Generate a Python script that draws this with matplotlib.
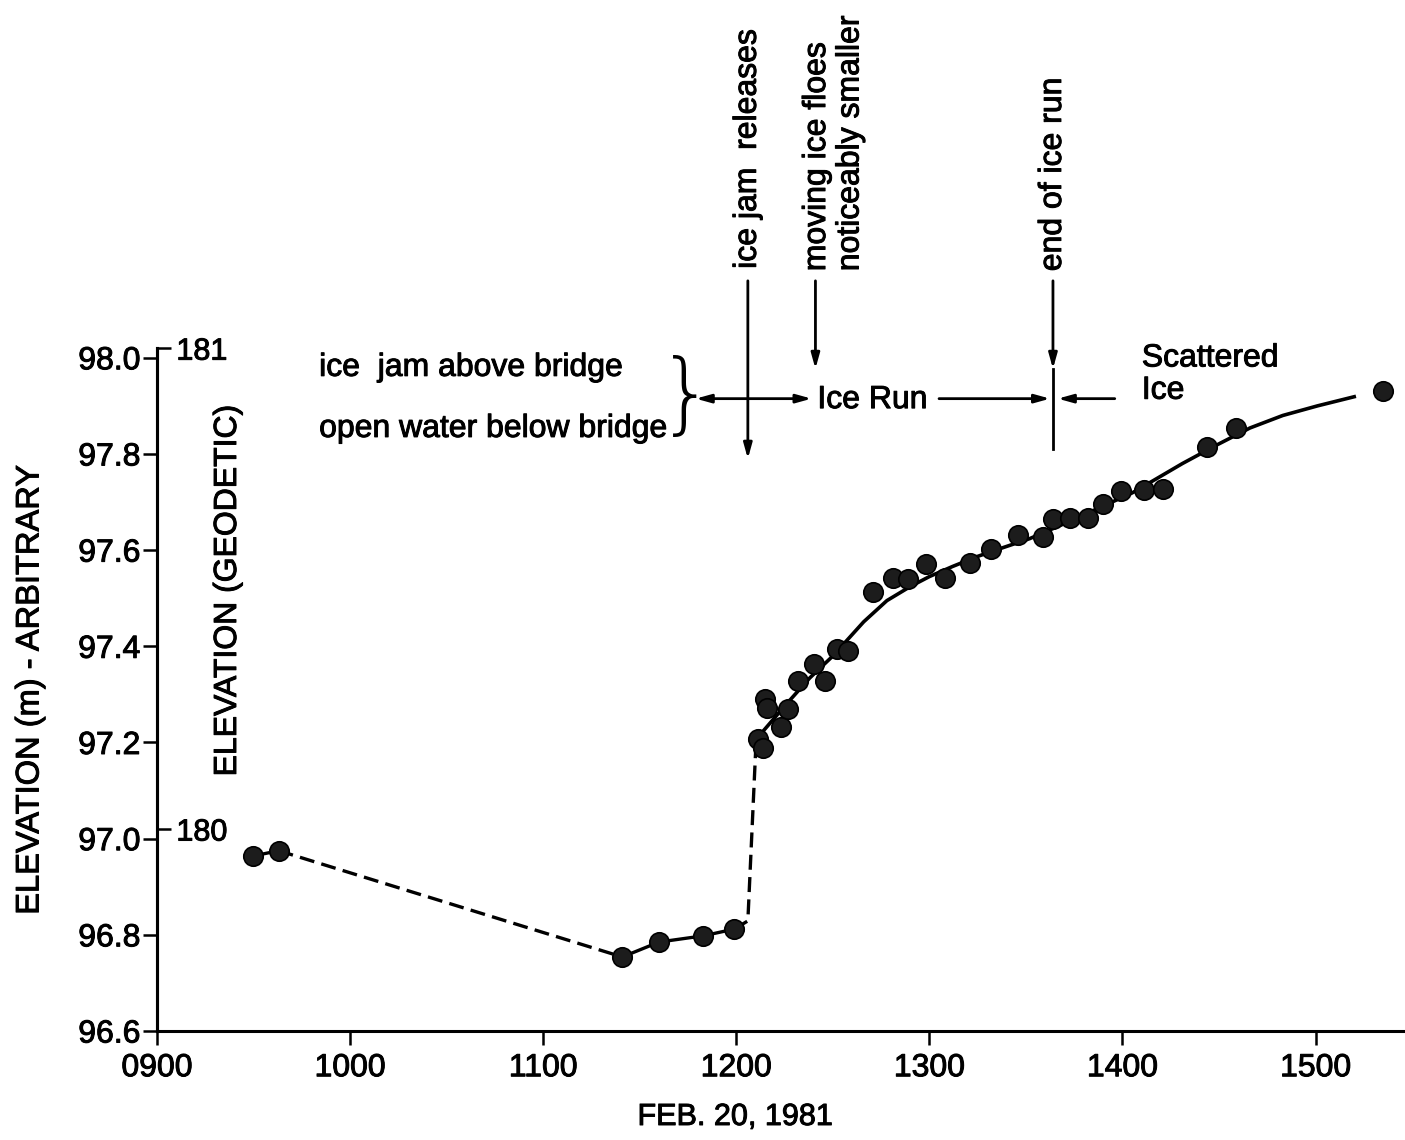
import matplotlib
matplotlib.use("Agg")
import matplotlib.pyplot as plt
import matplotlib.patheffects as pe
from matplotlib.text import Text
from matplotlib.ticker import FixedLocator, FixedFormatter

plt.rcParams['font.family'] = ['Liberation Sans', 'DejaVu Sans']

# observed water levels, time in decimal hours on Feb 20 1981
obs_time = [9.50, 9.63, 11.41, 11.60, 11.83, 11.99, 12.11, 12.14, 12.15, 12.16,
            12.23, 12.27, 12.32, 12.40, 12.46, 12.52, 12.58, 12.71, 12.81, 12.89,
            12.98, 13.08, 13.21, 13.32, 13.46, 13.59, 13.64, 13.73, 13.82, 13.90,
            13.99, 14.11, 14.21, 14.44, 14.59, 15.35]
obs_elev = [96.964, 96.975, 96.754, 96.785, 96.798, 96.812, 97.208, 97.189, 97.291, 97.272,
            97.233, 97.270, 97.328, 97.364, 97.328, 97.395, 97.391, 97.513, 97.542, 97.540,
            97.572, 97.542, 97.574, 97.603, 97.632, 97.628, 97.665, 97.667, 97.667, 97.696,
            97.723, 97.725, 97.728, 97.815, 97.854, 97.931]

# hand-drawn trend through the ice run
fit_time = [12.11, 12.14, 12.26, 12.38, 12.49, 12.57, 12.66, 12.78, 12.90, 13.00,
            13.12, 13.25, 13.38, 13.52, 13.71, 13.88, 14.05, 14.14, 14.31, 14.49,
            14.66, 14.83, 15.01, 15.20]
fit_elev = [97.199, 97.224, 97.280, 97.334, 97.376, 97.411, 97.451, 97.495, 97.524, 97.545,
            97.566, 97.587, 97.605, 97.624, 97.657, 97.688, 97.719, 97.740, 97.780, 97.819,
            97.854, 97.880, 97.900, 97.919]

# dashed jump when the jam releases
jump_time = [11.99, 12.06, 12.10, 12.11]
jump_elev = [96.812, 96.829, 97.180, 97.208]

geodetic_offset = 82.98
hour_ticks = [9, 10, 11, 12, 13, 14, 15]
hour_labels = ['0900', '1000', '1100', '1200', '1300', '1400', '1500']
elev_ticks = [96.6, 96.8, 97.0, 97.2, 97.4, 97.6, 97.8, 98.0]

t_release = 12.06
t_floes = 12.41
t_end = 13.64

fig = plt.figure(figsize=(14.05, 11.4), dpi=100)
ax = fig.add_axes([0.1117, 0.0956, 0.8883, 0.599])

# early segments, dashed gap
ax.plot(obs_time[0:2], obs_elev[0:2], color='black', lw=2.4)
ax.plot(obs_time[1:3], obs_elev[1:3], color='black', lw=2.4, ls=(0, (4.5, 2.2)))
ax.plot(obs_time[2:6], obs_elev[2:6], color='black', lw=2.4)
ax.plot(jump_time, jump_elev, color='black', lw=2.4, ls=(0, (4.5, 2.2)))
ax.plot(fit_time, fit_elev, color='black', lw=2.6)
ax.plot(obs_time, obs_elev, 'o', ms=14, color='#1c1c1c', mec='black', mew=1.2, zorder=3)

ax.set_xlim(9, 15.463)
ax.set_ylim(96.6, 98.02)
ax.spines['top'].set_visible(False)
ax.spines['right'].set_visible(False)
for s in ['left', 'bottom']:
    ax.spines[s].set_linewidth(2.2)

ax.xaxis.set_major_locator(FixedLocator(hour_ticks))
ax.xaxis.set_major_formatter(FixedFormatter(hour_labels))
ax.set_yticks(elev_ticks)
ax.set_yticklabels([f'{v:.1f}' for v in elev_ticks])
ax.tick_params(axis='x', direction='out', length=10, width=1.8, labelsize=23, pad=6)
ax.tick_params(axis='y', direction='out', length=10, width=1.8, labelsize=23, pad=2)

sec = ax.secondary_yaxis(0.0, functions=(lambda y: y + geodetic_offset,
                                         lambda y: y - geodetic_offset))
sec.set_alignment('right')
sec.set_yticks([180, 181])
sec.tick_params(direction='out', length=10, width=1.8, labelsize=22, pad=4)
sec.spines['right'].set_linewidth(2.2)

fig.text(30 / 1405, 1 - 690 / 1140, 'ELEVATION (m) - ARBITRARY', rotation=90,
         ha='center', va='center', fontsize=23.5)
fig.text(228 / 1405, 1 - 590 / 1140, 'ELEVATION (GEODETIC)', rotation=90,
         ha='center', va='center', fontsize=23)
fig.text(735 / 1405, 1 - 1117 / 1140, 'FEB. 20, 1981', ha='center', va='center',
         fontsize=22)

# annotations
txt = dict(fontsize=23, clip_on=False)
ax.text(9.84, 97.979, 'ice  jam above bridge', ha='left', va='center', **txt)
ax.text(9.84, 97.852, 'open water below bridge', ha='left', va='center', **txt)

head = dict(color='black', lw=2, shrinkA=0, shrinkB=0)
ahead = '-|>,head_length=0.9,head_width=0.25'
ax.annotate('', xy=(11.79, 97.915), xytext=(12.39, 97.915),
            arrowprops=dict(arrowstyle='<|-|>,head_length=0.9,head_width=0.25', **head),
            annotation_clip=False)
ax.text(12.42, 97.912, 'Ice Run', ha='left', va='center', **txt)
ax.annotate('', xy=(13.625, 97.915), xytext=(13.05, 97.915),
            arrowprops=dict(arrowstyle=ahead, **head), annotation_clip=False)
ax.annotate('', xy=(13.665, 97.915), xytext=(13.96, 97.915),
            arrowprops=dict(arrowstyle=ahead, **head), annotation_clip=False)

ax.annotate('', xy=(t_release, 97.79), xytext=(t_release, 98.16),
            arrowprops=dict(arrowstyle=ahead, **head), annotation_clip=False)
ax.text(t_release, 98.185, 'ice jam  releases', rotation=90, ha='center', va='bottom', **txt)

ax.annotate('', xy=(t_floes, 97.977), xytext=(t_floes, 98.16),
            arrowprops=dict(arrowstyle=ahead, **head), annotation_clip=False)
ax.text(t_floes + 0.095, 98.18, 'moving ice floes\nnoticeably smaller', rotation=90,
        ha='center', va='bottom', multialignment='left', linespacing=1.15, **txt)

ax.annotate('', xy=(t_end, 97.977), xytext=(t_end, 98.16),
            arrowprops=dict(arrowstyle=ahead, **head), annotation_clip=False)
ax.plot([t_end, t_end], [97.977, 97.811], color='black', lw=2, clip_on=False)
ax.text(t_end, 98.18, 'end of ice run', rotation=90, ha='center', va='bottom', **txt)

ax.text(14.10, 97.965, 'Scattered\nIce', ha='left', va='center', linespacing=1.1, **txt)

# slightly heavier strokes, like the printed original
for t in fig.findobj(Text):
    t.set_path_effects([pe.withStroke(linewidth=0.7, foreground='black')])

# thin brace, added after the stroke pass
ax.text(11.74, 97.915, '}', ha='center', va='center', fontsize=64,
        family='DejaVu Sans', fontweight='light', clip_on=False)

fig.savefig('out.png', dpi=100)
